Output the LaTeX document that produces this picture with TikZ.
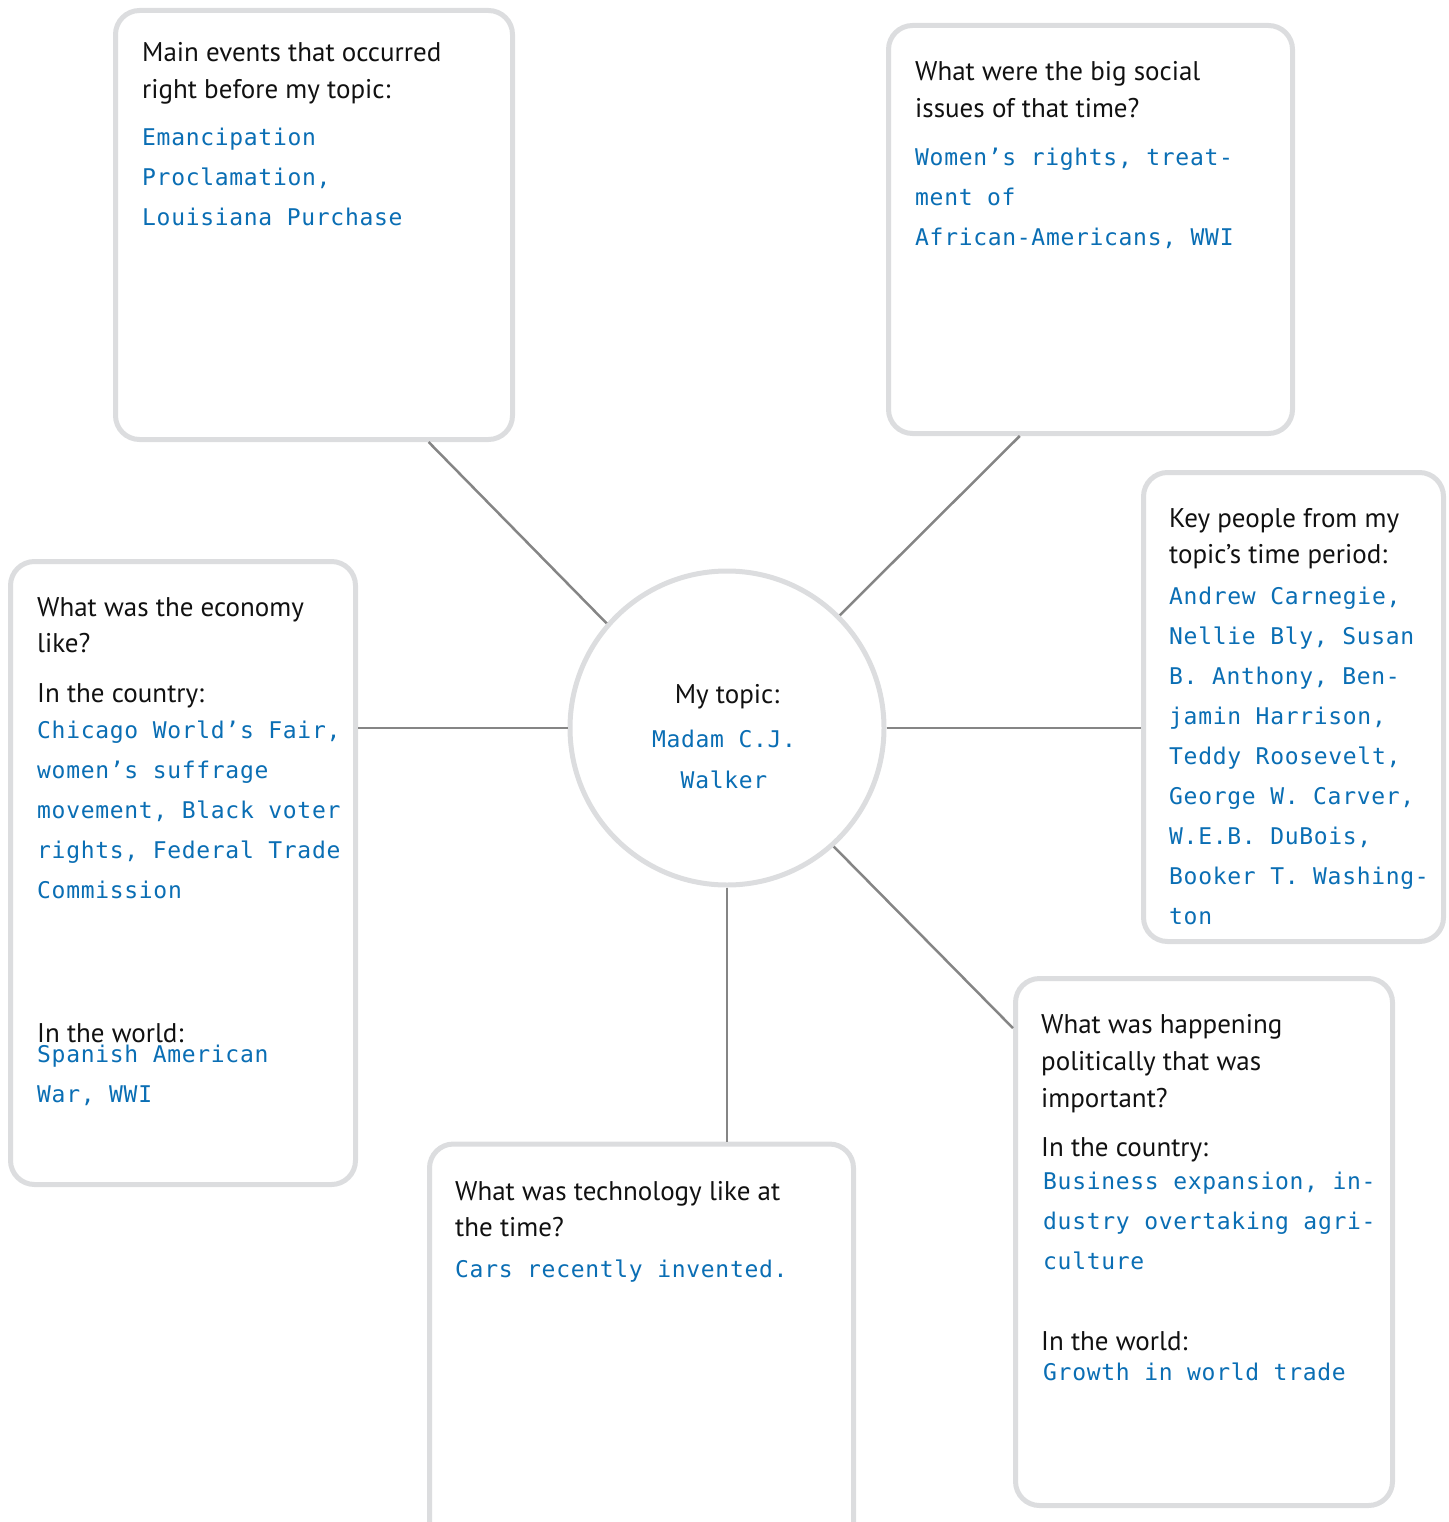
\documentclass[tikz,border=0pt]{standalone}
\usepackage{fontspec}
\setmainfont{PT Sans}
\newfontfamily\blmono[LetterSpace=3]{DejaVu Sans Mono}
\usetikzlibrary{calc}
\definecolor{boxgray}{HTML}{DCDDDF}
\definecolor{linegray}{HTML}{858585}
\definecolor{topicblue}{HTML}{0A6EB4}
\definecolor{txtblack}{HTML}{111111}
\tikzset{
  card/.style={draw=boxgray, line width=5pt, rounded corners=24pt, fill=white, inner sep=0pt},
  conn/.style={draw=linegray, line width=2.5pt},
  qtext/.style={font=\fontsize{27}{37}\selectfont, text=txtblack, inner sep=0pt, anchor=base west},
  atext/.style={font=\blmono\fontsize{23}{40}\selectfont, text=topicblue, inner sep=0pt, anchor=base west},
}
\newcommand\txtlines[6]{\foreach \L [count=\i] in {#6}{\node[#2] (#1\i) at (#3,{#4+(\i-1)*#5}) {\L};}}
\begin{document}
\begin{tikzpicture}[x=1pt,y=-1pt]
\useasboundingbox (0,0) rectangle (1448,1522);
\begin{scope}
\clip (0,0) rectangle (1448,1522);
% cards
\node[card, minimum width=397pt, minimum height=429pt] (b1) at (314,225) {};
\node[card, minimum width=404pt, minimum height=408pt] (b2) at (1090.5,229.5) {};
\node[card, minimum width=300pt, minimum height=469pt] (b3) at (1293.5,707) {};
\node[card, minimum width=345pt, minimum height=623pt] (b4) at (183,873) {};
\node[card, minimum width=424pt, minimum height=416pt] (b5) at (641.5,1352) {};
\node[card, minimum width=377pt, minimum height=527pt] (b6) at (1204,1242) {};
\node[circle, draw=boxgray, line width=5pt, fill=white, minimum size=314pt, inner sep=0pt] (c) at (727,728) {};
% connectors
\draw[conn] ($(b1.south west)!0.785!(b1.south east)$) -- (c.139);
\draw[conn] ($(b2.south west)!0.327!(b2.south east)$) -- (c.45);
\draw[conn] (b4.east |- c.west) -- (c.west);
\draw[conn] (c.east) -- (c.east -| b3.west);
\draw[conn] (c.-48.5) -- ($(b6.north west)!0.098!(b6.south west)$);
\draw[conn] (c.south) -- (c.south |- b5.north);
% box 1
\txtlines{q1}{qtext}{142}{62}{37}{{Main events that occurred},{right before my topic:}}
\txtlines{a1}{atext}{142}{146}{40}{{Emancipation},{Proclamation,},{Louisiana Purchase}}
% box 2
\txtlines{q2}{qtext}{915}{81}{37}{{What were the big social},{issues of that time?}}
\txtlines{a2}{atext}{915}{166}{40}{{Women’s rights, treat-},{ment of},{African-Americans, WWI}}
% box 3
\txtlines{q3}{qtext}{1169}{527}{36}{{Key people from my},{topic’s time period:}}
\txtlines{a3}{atext}{1169}{604}{40}{{Andrew Carnegie,},{Nellie Bly, Susan},{B. Anthony, Ben-},{jamin Harrison,},{Teddy Roosevelt,},{George W. Carver,},{W.E.B. DuBois,},{Booker T. Washing-},{ton}}
% box 4
\txtlines{q4}{qtext}{37}{616}{36}{{What was the economy},{like?}}
\node[qtext] (q4c) at (37,702) {In the country:};
\txtlines{a4}{atext}{37}{738}{40}{{Chicago World’s Fair,},{women’s suffrage},{movement, Black voter},{rights, Federal Trade},{Commission}}
\node[qtext] (q4w) at (37,1042) {In the world:};
\txtlines{a4w}{atext}{37}{1062}{40}{{Spanish American},{War, WWI}}
% box 5
\txtlines{q5}{qtext}{455}{1200}{36}{{What was technology like at},{the time?}}
\node[atext] (a5) at (455,1277) {Cars recently invented.};
% box 6
\txtlines{q6}{qtext}{1041}{1033}{37}{{What was happening},{politically that was},{important?}}
\node[qtext] (q6c) at (1041,1156) {In the country:};
\txtlines{a6}{atext}{1043}{1189}{40}{{Business expansion, in-},{dustry overtaking agri-},{culture}}
\node[qtext] (q6w) at (1041,1350) {In the world:};
\node[atext] (a6w) at (1043,1380) {Growth in world trade};
% centre
\node[qtext, anchor=base] (ct) at (727,703) {My topic:};
\node[atext, anchor=base] (ca1) at (724,747) {Madam C.J.};
\node[atext, anchor=base] (ca2) at (724,788) {Walker};
\end{scope}
\end{tikzpicture}
\end{document}
